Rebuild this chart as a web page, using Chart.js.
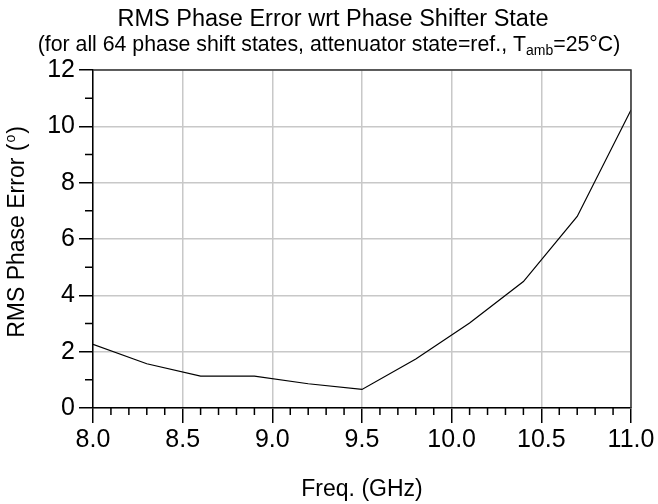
<!DOCTYPE html>
<html>
<head>
  <title>RMS Phase Error wrt Phase Shifter State</title>
  <script src="https://cdn.jsdelivr.net/npm/chart.js"></script>
  <style>
    body { margin: 0; background: #fff; }
  </style>
</head>
<body>
  <canvas id="myChart" width="658" height="504"></canvas>

  <script>
    // values
    const freqGHz  = [8.0, 8.3, 8.6, 8.9, 9.2, 9.5, 9.8, 10.1, 10.4, 10.7, 11.0];
    const rmsError = [2.26, 1.57, 1.13, 1.13, 0.86, 0.66, 1.74, 3.02, 4.49, 6.80, 10.58];

    // major tick positions
    const xMajor = [8.0, 8.5, 9.0, 9.5, 10.0, 10.5, 11.0];
    const yMajor = [0, 2, 4, 6, 8, 10, 12];

    const titleText = 'RMS Phase Error wrt Phase Shifter State';
    const subtitleParts = ['(for all 64 phase shift states, attenuator state=ref., T', 'amb', '=25\u00B0C)'];
    const yTitleParts = ['RMS Phase Error (', 'o', ')'];
    const xTitle = 'Freq. (GHz)';

    const FONT = '"Liberation Sans", Arial, sans-serif';
    Chart.defaults.font.family = FONT;
    Chart.defaults.color = '#000';

    // draws titles, top/right frame and minor ticks
    const extras = {
      id: 'extras',
      afterDraw(chart) {
        const ctx = chart.ctx;
        const a = chart.chartArea;
        const x = chart.scales.x, y = chart.scales.y;
        ctx.save();

        // frame top + right
        ctx.strokeStyle = '#333';
        ctx.lineWidth = 1.5;
        ctx.beginPath();
        ctx.moveTo(a.left, a.top);
        ctx.lineTo(a.right, a.top);
        ctx.lineTo(a.right, a.bottom);
        ctx.stroke();

        // minor ticks
        ctx.strokeStyle = '#000';
        ctx.lineWidth = 1.5;
        ctx.beginPath();
        for (let i = 0; i < xMajor.length - 1; i++) {
          for (let k = 1; k < 5; k++) {
            const px = x.getPixelForValue(xMajor[i] + (xMajor[i + 1] - xMajor[i]) * k / 5);
            ctx.moveTo(px, a.bottom);
            ctx.lineTo(px, a.bottom + 7);
          }
        }
        for (let i = 0; i < yMajor.length - 1; i++) {
          const py = y.getPixelForValue((yMajor[i] + yMajor[i + 1]) / 2);
          ctx.moveTo(a.left, py);
          ctx.lineTo(a.left - 8, py);
        }
        ctx.stroke();

        // title
        ctx.fillStyle = '#000';
        ctx.textAlign = 'center';
        ctx.textBaseline = 'alphabetic';
        ctx.font = '23.5px ' + FONT;
        ctx.fillText(titleText, 333, 26);

        // subtitle with subscript
        const big = '21.3px ' + FONT, small = '14px ' + FONT;
        ctx.textAlign = 'left';
        ctx.font = big;
        const w1 = ctx.measureText(subtitleParts[0]).width;
        const w3 = ctx.measureText(subtitleParts[2]).width;
        ctx.font = small;
        const w2 = ctx.measureText(subtitleParts[1]).width;
        let sx = 329 - (w1 + w2 + w3) / 2;
        ctx.font = big;
        ctx.fillText(subtitleParts[0], sx, 51);
        ctx.font = small;
        ctx.fillText(subtitleParts[1], sx + w1, 55);
        ctx.font = big;
        ctx.fillText(subtitleParts[2], sx + w1 + w2, 51);

        // y axis title with superscript
        ctx.translate(24, 233);
        ctx.rotate(-Math.PI / 2);
        const f1 = '23px ' + FONT, f2 = '14px ' + FONT;
        ctx.font = f1;
        const t1 = ctx.measureText(yTitleParts[0]).width;
        const t3 = ctx.measureText(yTitleParts[2]).width;
        ctx.font = f2;
        const t2 = ctx.measureText(yTitleParts[1]).width;
        let ty = -(t1 + t2 + t3) / 2;
        ctx.font = f1;
        ctx.fillText(yTitleParts[0], ty, 0);
        ctx.font = f2;
        ctx.fillText(yTitleParts[1], ty + t1 + 1, -9);
        ctx.font = f1;
        ctx.fillText(yTitleParts[2], ty + t1 + t2 + 2, 0);

        ctx.restore();
      }
    };

    const ctx = document.getElementById('myChart').getContext('2d');
    const myChart = new Chart(ctx, {
      type: 'scatter',
      data: {
        datasets: [{
          data: freqGHz.map((f, i) => ({ x: f, y: rmsError[i] })),
          showLine: true,
          borderColor: '#000',
          borderWidth: 1.2,
          pointRadius: 0,
          tension: 0
        }]
      },
      options: {
        responsive: false,
        animation: false,
        devicePixelRatio: 1,
        layout: { padding: { top: 70, right: 27, left: 0, bottom: 0 } },
        plugins: {
          legend: { display: false },
          tooltip: { enabled: false }
        },
        scales: {
          x: {
            type: 'linear',
            min: 8, max: 11,
            afterBuildTicks: s => { s.ticks = xMajor.map(v => ({ value: v })); },
            afterFit: s => { s.height = 96; },
            ticks: {
              font: { size: 25 },
              color: '#000',
              padding: 2,
              maxRotation: 0,
              autoSkip: false,
              callback: v => Number(v).toFixed(1)
            },
            grid: {
              color: '#c8c8c8',
              lineWidth: 1.5,
              tickLength: 15,
              tickColor: '#000',
              tickWidth: 1.5
            },
            border: { color: '#000', width: 1.5 },
            title: {
              display: true,
              text: xTitle,
              font: { size: 23 },
              color: '#000',
              padding: { top: 0, bottom: 1 }
            }
          },
          y: {
            min: 0, max: 12,
            afterBuildTicks: s => { s.ticks = yMajor.map(v => ({ value: v })); },
            afterFit: s => { s.width = 93; },
            ticks: {
              font: { size: 25 },
              color: '#000',
              padding: 4
            },
            grid: {
              color: '#c8c8c8',
              lineWidth: 1.5,
              tickLength: 14,
              tickColor: '#000',
              tickWidth: 1.5
            },
            border: { color: '#000', width: 1.5 }
          }
        }
      },
      plugins: [extras]
    });
  </script>
</body>
</html>
